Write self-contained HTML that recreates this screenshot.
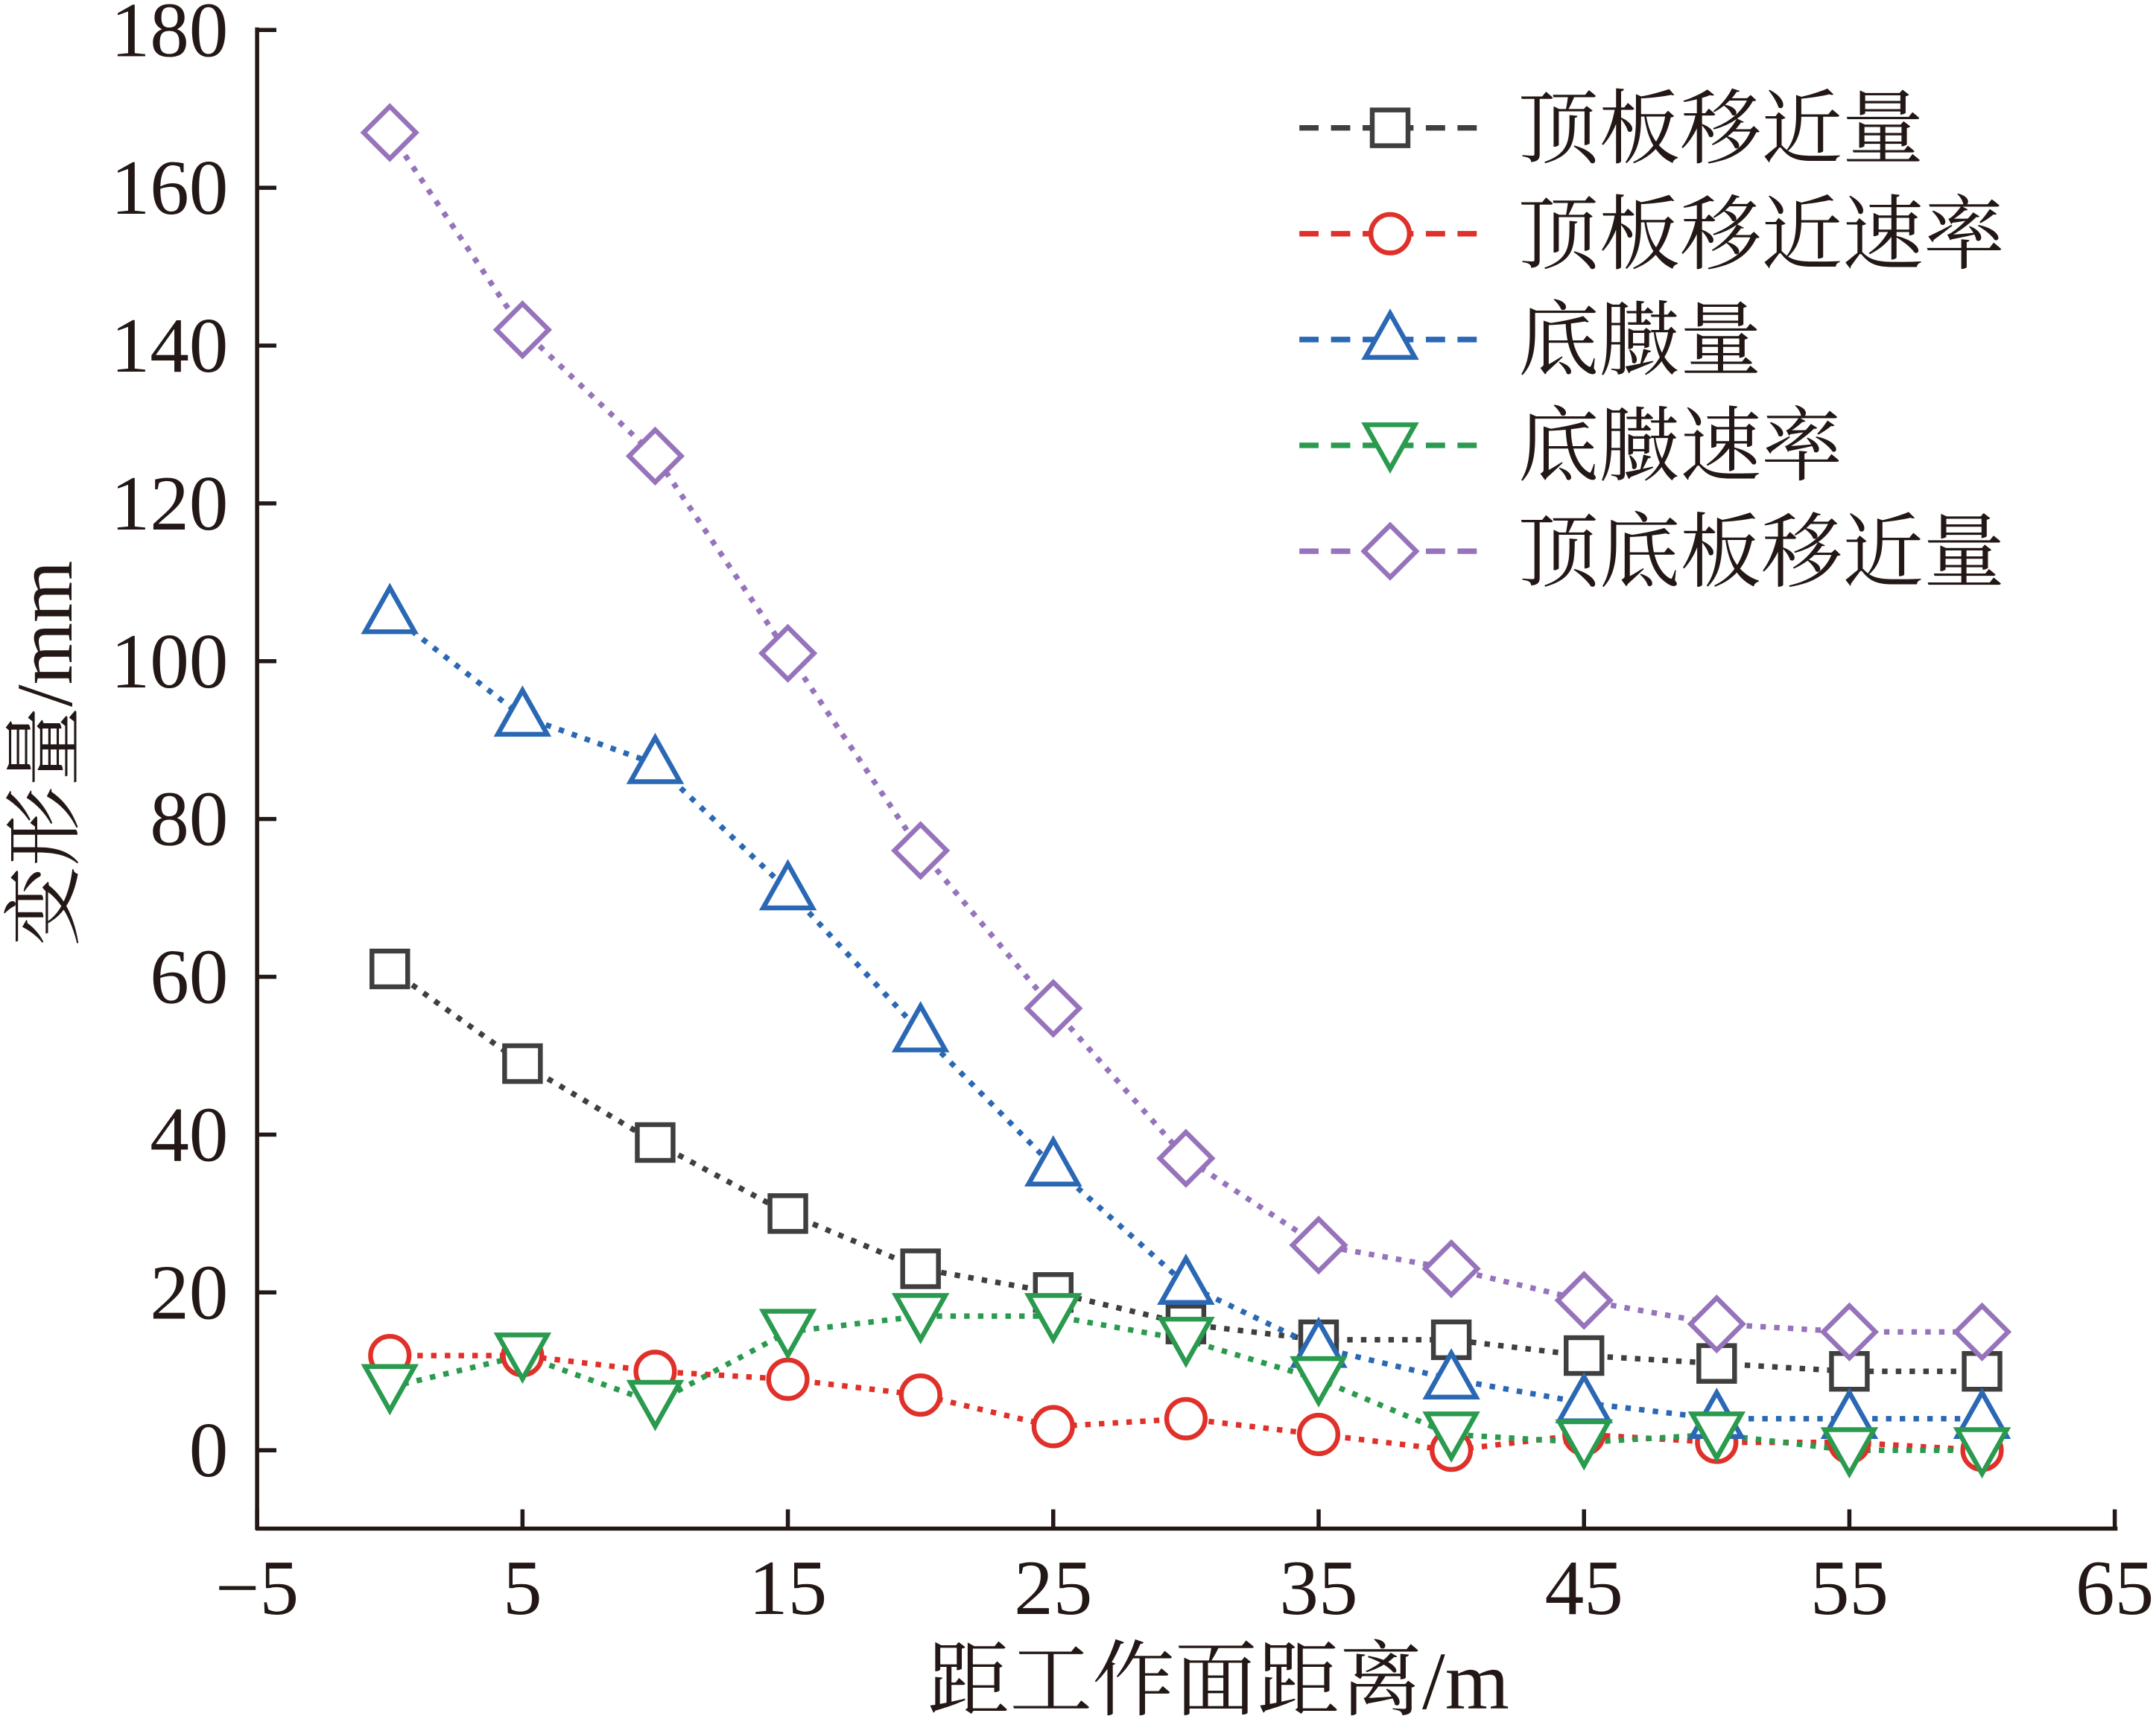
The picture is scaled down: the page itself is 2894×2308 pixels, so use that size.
<!DOCTYPE html>
<html><head><meta charset="utf-8"><style>html,body{margin:0;padding:0;background:#fff}svg{display:block}</style></head><body>
<svg width="2894" height="2308" viewBox="0 0 1568 1250.5" preserveAspectRatio="none" xmlns="http://www.w3.org/2000/svg">
<defs>
<g id="sq"><rect x="-13" y="-13" width="26" height="26" fill="#fff" stroke="#3f3f3f" stroke-width="3.5"/></g>
<g id="ci"><circle r="14" fill="#fff" stroke="#e0302a" stroke-width="3.5"/></g>
<g id="tr"><polygon points="0,-19 18,13 -18,13" fill="#fff" stroke="#2b68b4" stroke-width="3.5"/></g>
<g id="it"><polygon points="0,17 18,-15 -18,-15" fill="#fff" stroke="#2a9a4e" stroke-width="3.5"/></g>
<g id="di"><polygon points="0,-19 19,0 0,19 -19,0" fill="#fff" stroke="#9673bb" stroke-width="3.5"/></g>
</defs>
<g stroke="#231815" stroke-width="3" fill="none">
<line x1="187" y1="20" x2="187" y2="1113"/>
<line x1="186" y1="1112" x2="1540" y2="1112"/>
</g>
<g id="axes"></g>
<g id="plot"></g>
<g font-family="Liberation Serif, serif" font-size="57" fill="#231815" text-anchor="end" id="ylab"></g>
<g font-family="Liberation Serif, serif" font-size="57" fill="#231815" text-anchor="middle" id="xlab"></g>
<text x="886" y="1243" font-family="Liberation Serif, 'Noto Serif CJK SC', serif" font-size="60" text-anchor="middle" fill="#231815">距工作面距离/m</text>
<text transform="translate(52,548) rotate(-90)" font-family="Liberation Serif, 'Noto Serif CJK SC', serif" font-size="58" text-anchor="middle" fill="#231815">变形量/mm</text>
<g id="leg" font-family="Liberation Serif, 'Noto Serif CJK SC', serif" font-size="59" fill="#231815"></g>
<script>
var NS="http://www.w3.org/2000/svg";
function el(p,t,a,txt){var e=document.createElementNS(NS,t);for(var k in a)e.setAttribute(k,a[k]);if(txt!=null)e.textContent=txt;document.getElementById(p).appendChild(e);return e;}
function X(v){return 187+(v+5)*96.5/5;}
function Y(v){return 1055-v*114.8/20;}
for(var i=0;i<=9;i++){var y=Y(i*20);el('axes','line',{x1:187,x2:201,y1:y,y2:y,stroke:'#231815','stroke-width':3});el('ylab','text',{x:166,y:y+19},String(i*20));}
for(var v=-5;v<=65;v+=10){var x=X(v);el('axes','line',{x1:x,x2:x,y1:1112,y2:1098,stroke:'#231815','stroke-width':3});el('xlab','text',{x:x,y:1174},v<0?'\u2212'+(-v):String(v));}
var S=[
['#3f3f3f','sq',[61,49,39,30,23,20,16,14,14,12,11,10,10],'顶板移近量'],
['#e0302a','ci',[12,12,10,9,7,3,4,2,0,2,1,1,0],'顶板移近速率'],
['#2b68b4','tr',[106,93,87,71,53,36,21,13,9,6,4,4,4],'底臌量'],
['#2a9a4e','it',[8,12,6,15,17,17,14,9,2,1,2,0,0],'底臌速率'],
['#9673bb','di',[167,142,126,101,76,56,37,26,23,19,16,15,15],'顶底板移近量']];
S.forEach(function(s,k){var p=s[2].map(function(v,i){return X(i*5)+','+Y(v);}).join(' ');
el('plot','polyline',{points:p,fill:'none',stroke:s[0],'stroke-width':4,'stroke-dasharray':'4 6'});});
S.forEach(function(s){s[2].forEach(function(v,i){el('plot','use',{href:'#'+s[1],x:X(i*5),y:Y(v)});});});
S.forEach(function(s,k){var y=93+k*77;el('leg','line',{x1:945,x2:1082,y1:y,y2:y,stroke:s[0],'stroke-width':4,'stroke-dasharray':'14 9'});
el('leg','use',{href:'#'+s[1],x:1011,y:y});el('leg','text',{x:1104,y:y+21},s[3]);});
</script>
</svg>
</body></html>
